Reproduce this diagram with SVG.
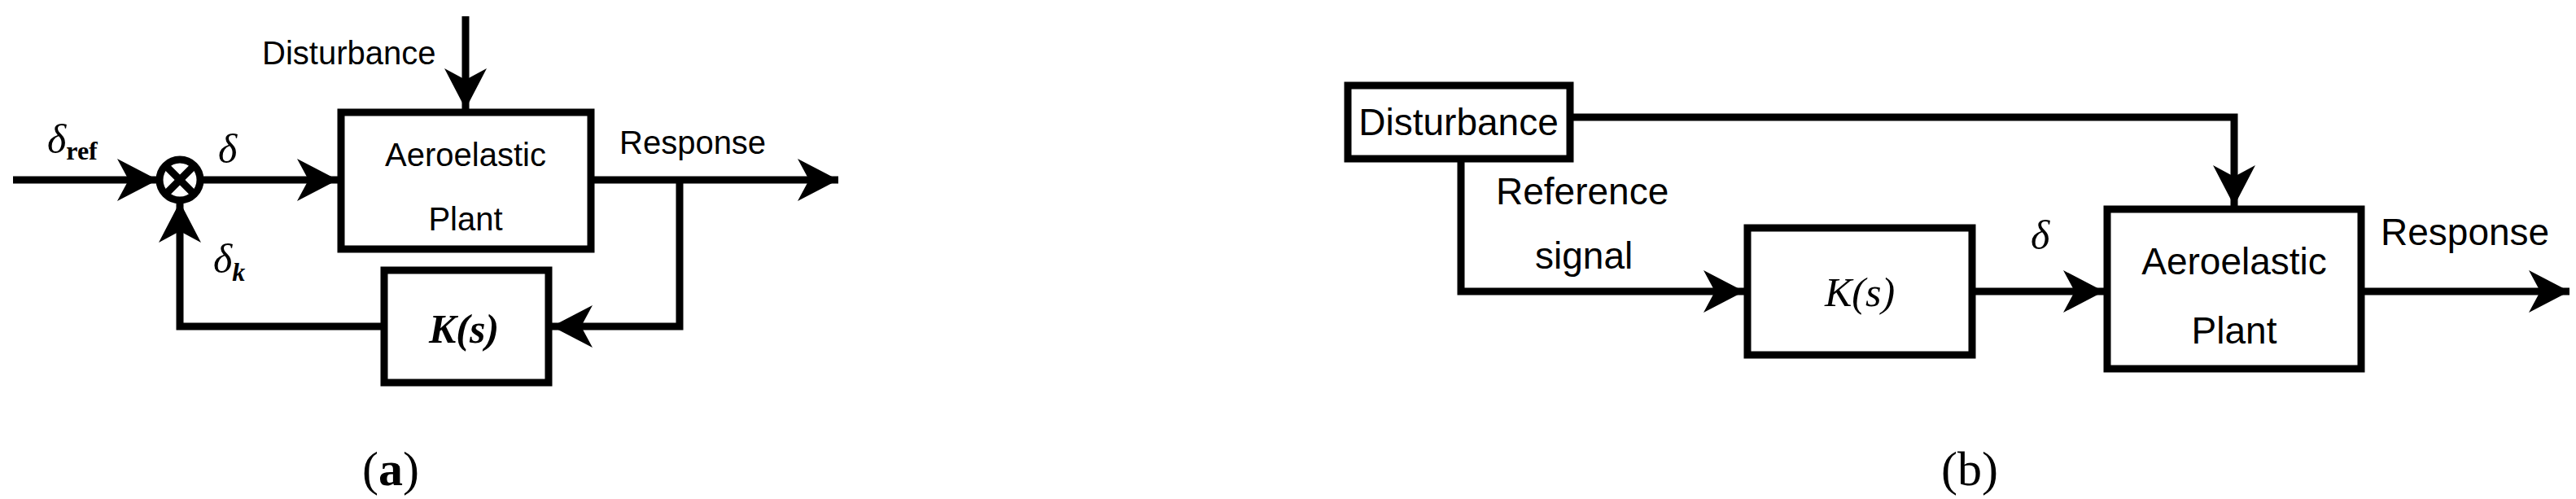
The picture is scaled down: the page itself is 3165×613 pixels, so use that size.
<svg xmlns="http://www.w3.org/2000/svg" width="3165" height="613" viewBox="0 0 3165 613">
<style>
.b{fill:#fff;stroke:#000;stroke-width:9}
.c{fill:none;stroke:#000;stroke-width:9}
.t{font-family:"Liberation Sans",Arial,sans-serif;font-size:40px;fill:#000}
.t2{font-family:"Liberation Sans",Arial,sans-serif;font-size:46px;fill:#000}
.m{font-family:"Liberation Serif","Times New Roman",serif;font-style:italic;font-size:50px;fill:#000}
.cap{font-family:"Liberation Serif","Times New Roman",serif;font-size:60px;fill:#000;text-anchor:middle}
</style>
<defs>
<marker id="ah" markerUnits="userSpaceOnUse" viewBox="0 -26 50 52" refX="50" refY="0" markerWidth="50" markerHeight="52" orient="auto">
<path d="M0,-26 L50,0 L0,26 L14,0 z" fill="#000"/>
</marker>
</defs>
<g id="connectors">
<line class="c" x1="16" y1="221" x2="194" y2="221" marker-end="url(#ah)"/>
<line class="c" x1="248" y1="221" x2="415" y2="221" marker-end="url(#ah)"/>
<line class="c" x1="572" y1="20" x2="572" y2="134" marker-end="url(#ah)"/>
<line class="c" x1="730" y1="221" x2="1030" y2="221" marker-end="url(#ah)"/>
<polyline class="c" points="835,221 835,401 678,401" marker-end="url(#ah)"/>
<polyline class="c" points="468,401 221,401 221,248" marker-end="url(#ah)"/>
<polyline class="c" points="1933,144 2745,144 2745,253" marker-end="url(#ah)"/>
<polyline class="c" points="1795,197 1795,358 2143,358" marker-end="url(#ah)"/>
<line class="c" x1="2427" y1="358" x2="2585" y2="358" marker-end="url(#ah)"/>
<line class="c" x1="2905" y1="358" x2="3157" y2="358" marker-end="url(#ah)"/>
</g>
<g id="sum">
<circle class="b" cx="221" cy="221" r="25"/>
<line class="c" x1="204" y1="204" x2="238" y2="238" stroke-width="6"/>
<line class="c" x1="238" y1="204" x2="204" y2="238" stroke-width="6"/>
</g>
<g id="plant-a">
<rect class="b" x="419" y="138" width="307" height="168"/>
<text class="t" x="572" y="204" text-anchor="middle">Aeroelastic</text>
<text class="t" x="572" y="283" text-anchor="middle">Plant</text>
</g>
<g id="k-a">
<rect class="b" x="472" y="332" width="202" height="138"/>
<text class="m" x="570" y="421" text-anchor="middle" font-weight="bold">K(s)</text>
</g>
<g id="labels-a">
<text class="t" x="322" y="79" font-size="37">Disturbance</text>
<text class="t" x="761" y="189" font-size="42">Response</text>
<text class="m" x="58" y="188">δ<tspan font-style="normal" font-size="32" dy="8" font-weight="bold">ref</tspan></text>
<text class="m" x="268" y="200">δ</text>
<text class="m" x="262" y="335">δ<tspan font-size="32" dy="10" font-weight="bold">k</tspan></text>
<text class="cap" x="480" y="596">(<tspan font-weight="bold">a</tspan>)</text>
</g>
<g id="dist-b">
<rect class="b" x="1656" y="105" width="273" height="90"/>
<text class="t2" x="1792" y="166" text-anchor="middle">Disturbance</text>
</g>
<g id="k-b">
<rect class="b" x="2147" y="280" width="276" height="156"/>
<text class="m" x="2285" y="376" text-anchor="middle" font-size="56">K(s)</text>
</g>
<g id="plant-b">
<rect class="b" x="2589" y="257" width="312" height="196"/>
<text class="t2" x="2745" y="337" text-anchor="middle">Aeroelastic</text>
<text class="t2" x="2745" y="422" text-anchor="middle">Plant</text>
</g>
<g id="labels-b">
<text class="t2" x="1838" y="251">Reference</text>
<text class="t2" x="1886" y="330">signal</text>
<text class="m" x="2495" y="306" font-size="56">δ</text>
<text class="t2" x="2925" y="301">Response</text>
<text class="cap" x="2420" y="596">(b)</text>
</g>
</svg>
